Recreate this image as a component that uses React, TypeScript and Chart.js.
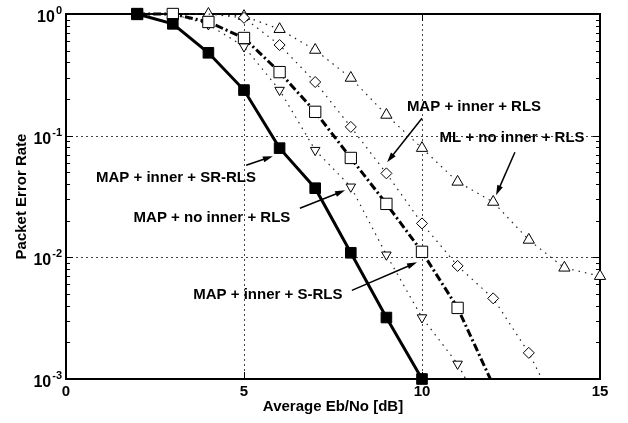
import React, { useEffect, useRef } from 'react';
import { Chart, registerables } from 'chart.js';

Chart.register(...registerables);

// ---------- data ----------
const ebNoSrRls = [2, 3, 4, 5, 6, 7, 8, 9, 10];
const perSrRls = [1.0, 0.83, 0.48, 0.237, 0.079, 0.037, 0.0109, 0.0032, 0.001];

const ebNoSRls = [2, 3, 4, 5, 6, 7, 8, 9, 10, 11, 12];
const perSRls = [1.0, 1.0, 0.86, 0.635, 0.333, 0.157, 0.0656, 0.0275, 0.0111, 0.00384, 0.00089];

const ebNoNoInner = [2, 3, 4, 5, 6, 7, 8, 9, 10, 11, 12];
const perNoInner = [1.0, 1.0, 0.82, 0.54, 0.237, 0.076, 0.038, 0.0105, 0.0032, 0.00133, 0.00038];

const ebNoInnerRls = [2, 3, 4, 5, 6, 7, 8, 9, 10, 11, 12, 13, 14];
const perInnerRls = [1.0, 1.0, 1.0, 0.93, 0.556, 0.276, 0.118, 0.049, 0.019, 0.0085, 0.0046, 0.00164, 0.00043];

const ebNoMl = [2, 3, 4, 5, 6, 7, 8, 9, 10, 11, 12, 13, 14, 15];
const perMl = [1.0, 1.0, 1.0, 0.96, 0.75, 0.506, 0.298, 0.148, 0.079, 0.0417, 0.0285, 0.0139, 0.0082, 0.007];

const xTickValues = [0, 5, 10, 15];
const yTickExponents = [0, -1, -2, -3];

const xTitle = 'Average Eb/No [dB]';
const yTitle = 'Packet Error Rate';

// annotation: label, label position, arrow start, arrow end (data units)
const annotationLabels = [
  'MAP + inner + SR-RLS',
  'MAP + no inner + RLS',
  'MAP + inner + S-RLS',
  'MAP + inner + RLS',
  'ML + no inner + RLS',
];
const annotationTextAt = [
  [3.09, 0.0447],
  [4.1, 0.0213],
  [5.67, 0.00487],
  [11.46, 0.172],
  [12.53, 0.0953],
];
const annotationArrowFrom = [
  [5.06, 0.0572],
  [6.57, 0.0253],
  [8.03, 0.00535],
  [10.0, 0.139],
  [12.61, 0.0731],
];
const annotationArrowTo = [
  [5.81, 0.0678],
  [7.84, 0.0356],
  [9.86, 0.0091],
  [9.02, 0.0605],
  [12.08, 0.0324],
];

const X_MIN = 0;
const X_MAX = 15;
const Y_MIN = 0.001;
const Y_MAX = 1;

const FONT = "'Liberation Sans', Arial, Helvetica, sans-serif";

const toXY = (xs: number[], ys: number[]) => xs.map((x, i) => ({ x, y: ys[i] }));

const radiusFn = (r: number, hidden: number[]) => (ctx: any) => {
  const raw = ctx.raw;
  if (!raw) return r;
  if (raw.y < Y_MIN) return 0;
  if (hidden.includes(ctx.dataIndex)) return 0;
  return r;
};

const clipBottom = { left: 20, right: 20, top: 20, bottom: 0 };

const decorPlugin = {
  id: 'decor',
  beforeDatasetsDraw(chart: any) {
    const { ctx, chartArea } = chart;
    const xs = chart.scales.x;
    const ys = chart.scales.y;
    const { left, right, top, bottom } = chartArea;
    ctx.save();
    // grid lines (dotted)
    ctx.strokeStyle = '#444';
    ctx.lineWidth = 1;
    ctx.setLineDash([2, 3]);
    for (const v of xTickValues) {
      if (v <= X_MIN || v >= X_MAX) continue;
      const px = Math.round(xs.getPixelForValue(v)) + 0.5;
      ctx.beginPath();
      ctx.moveTo(px, top);
      ctx.lineTo(px, bottom);
      ctx.stroke();
    }
    for (const e of yTickExponents) {
      const v = Math.pow(10, e);
      if (v <= Y_MIN || v >= Y_MAX) continue;
      const py = Math.round(ys.getPixelForValue(v)) + 0.5;
      ctx.beginPath();
      ctx.moveTo(left, py);
      ctx.lineTo(right, py);
      ctx.stroke();
    }
    ctx.setLineDash([]);
    // minor ticks on left/right
    ctx.strokeStyle = '#000';
    ctx.lineWidth = 1;
    for (let e = -3; e < 0; e++) {
      for (let m = 2; m <= 9; m++) {
        const py = Math.round(ys.getPixelForValue(m * Math.pow(10, e))) + 0.5;
        ctx.beginPath();
        ctx.moveTo(left, py);
        ctx.lineTo(left + 4, py);
        ctx.moveTo(right, py);
        ctx.lineTo(right - 4, py);
        ctx.stroke();
      }
    }
    // major ticks
    for (const e of yTickExponents) {
      const py = Math.round(ys.getPixelForValue(Math.pow(10, e))) + 0.5;
      ctx.beginPath();
      ctx.moveTo(left, py);
      ctx.lineTo(left + 7, py);
      ctx.moveTo(right, py);
      ctx.lineTo(right - 7, py);
      ctx.stroke();
    }
    for (const v of xTickValues) {
      const px = Math.round(xs.getPixelForValue(v)) + 0.5;
      ctx.beginPath();
      ctx.moveTo(px, bottom);
      ctx.lineTo(px, bottom - 7);
      ctx.moveTo(px, top);
      ctx.lineTo(px, top + 7);
      ctx.stroke();
    }
    // frame
    ctx.lineWidth = 2;
    ctx.strokeRect(left, top, right - left, bottom - top);
    ctx.restore();
  },
  afterDatasetsDraw(chart: any) {
    const { ctx, chartArea } = chart;
    const xs = chart.scales.x;
    const ys = chart.scales.y;
    ctx.save();
    ctx.fillStyle = '#000';
    // y tick labels with superscript exponents
    for (const e of yTickExponents) {
      const py = ys.getPixelForValue(Math.pow(10, e));
      const base = '10';
      const exp = String(e);
      ctx.font = `bold 16px ${FONT}`;
      const wb = ctx.measureText(base).width;
      ctx.font = `bold 11px ${FONT}`;
      const we = ctx.measureText(exp).width;
      const rightEdge = chartArea.left - 4;
      const startX = rightEdge - we - wb - 1;
      ctx.textAlign = 'left';
      ctx.textBaseline = 'alphabetic';
      ctx.font = `bold 16px ${FONT}`;
      ctx.fillText(base, startX, py + 8);
      ctx.font = `bold 11px ${FONT}`;
      ctx.fillText(exp, startX + wb + 1, py + 0);
    }
    // annotations
    ctx.font = `bold 15px ${FONT}`;
    ctx.textAlign = 'center';
    ctx.textBaseline = 'middle';
    annotationLabels.forEach((label, i) => {
      const tx = xs.getPixelForValue(annotationTextAt[i][0]);
      const ty = ys.getPixelForValue(annotationTextAt[i][1]);
      ctx.fillText(label, tx, ty);
      const x1 = xs.getPixelForValue(annotationArrowFrom[i][0]);
      const y1 = ys.getPixelForValue(annotationArrowFrom[i][1]);
      const x2 = xs.getPixelForValue(annotationArrowTo[i][0]);
      const y2 = ys.getPixelForValue(annotationArrowTo[i][1]);
      const ang = Math.atan2(y2 - y1, x2 - x1);
      const hl = 10;
      const hw = 3;
      ctx.strokeStyle = '#000';
      ctx.lineWidth = 1.5;
      ctx.beginPath();
      ctx.moveTo(x1, y1);
      ctx.lineTo(x2 - Math.cos(ang) * hl * 0.8, y2 - Math.sin(ang) * hl * 0.8);
      ctx.stroke();
      ctx.beginPath();
      ctx.moveTo(x2, y2);
      ctx.lineTo(
        x2 - Math.cos(ang) * hl + Math.sin(ang) * hw,
        y2 - Math.sin(ang) * hl - Math.cos(ang) * hw
      );
      ctx.lineTo(
        x2 - Math.cos(ang) * hl - Math.sin(ang) * hw,
        y2 - Math.sin(ang) * hl + Math.cos(ang) * hw
      );
      ctx.closePath();
      ctx.fill();
    });
    ctx.restore();
  },
};

export default function App() {
  const canvasRef = useRef<HTMLCanvasElement | null>(null);

  useEffect(() => {
    if (!canvasRef.current) return;
    const dotted = [1.5, 5];
    const chart = new Chart(canvasRef.current, {
      type: 'line',
      data: {
        datasets: [
          {
            label: 'MAP + inner + SR-RLS',
            data: toXY(ebNoSrRls, perSrRls),
            borderColor: '#000',
            borderWidth: 3,
            pointStyle: 'rect',
            pointRadius: radiusFn(7.5, []),
            pointBackgroundColor: '#000',
            pointBorderColor: '#000',
            pointBorderWidth: 1,
            clip: false,
            tension: 0,
          },
          {
            label: 'MAP + inner + S-RLS',
            data: toXY(ebNoSRls, perSRls),
            borderColor: '#000',
            borderWidth: 3,
            borderDash: [8, 3, 2, 3],
            pointStyle: 'rect',
            pointRadius: radiusFn(8, []),
            pointBackgroundColor: '#fff',
            pointBorderColor: '#000',
            pointBorderWidth: 1,
            clip: clipBottom,
            tension: 0,
          },
          {
            label: 'MAP + no inner + RLS',
            data: toXY(ebNoNoInner, perNoInner),
            borderColor: '#222',
            borderWidth: 1.2,
            borderDash: dotted,
            pointStyle: 'triangle',
            pointRotation: 180,
            pointRadius: radiusFn(5.5, [0, 1]),
            pointBackgroundColor: '#fff',
            pointBorderColor: '#000',
            pointBorderWidth: 1,
            clip: clipBottom,
            tension: 0,
          },
          {
            label: 'MAP + inner + RLS',
            data: toXY(ebNoInnerRls, perInnerRls),
            borderColor: '#222',
            borderWidth: 1.2,
            borderDash: dotted,
            pointStyle: 'rectRot',
            pointRadius: radiusFn(5.5, [0, 1, 2]),
            pointBackgroundColor: '#fff',
            pointBorderColor: '#000',
            pointBorderWidth: 1,
            clip: clipBottom,
            tension: 0,
          },
          {
            label: 'ML + no inner + RLS',
            data: toXY(ebNoMl, perMl),
            borderColor: '#222',
            borderWidth: 1.2,
            borderDash: dotted,
            pointStyle: 'triangle',
            pointRadius: radiusFn(6.5, [0, 1]),
            pointBackgroundColor: '#fff',
            pointBorderColor: '#000',
            pointBorderWidth: 1,
            clip: false,
            tension: 0,
          },
        ],
      },
      options: {
        responsive: false,
        animation: false,
        events: [],
        layout: { padding: { top: 14, right: 28, bottom: 0, left: 0 } },
        plugins: {
          legend: { display: false },
          tooltip: { enabled: false },
        },
        scales: {
          x: {
            type: 'linear',
            min: X_MIN,
            max: X_MAX,
            afterBuildTicks: (s: any) => {
              s.ticks = xTickValues.map((v) => ({ value: v }));
            },
            ticks: {
              font: { family: FONT, size: 15, weight: 'bold' },
              color: '#000',
              padding: 4,
              maxRotation: 0,
            },
            grid: { display: true, drawOnChartArea: false, drawTicks: false, color: 'rgba(0,0,0,0)' },
            border: { display: false },
            title: {
              display: true,
              text: xTitle,
              color: '#000',
              font: { family: FONT, size: 15, weight: 'bold' },
              padding: { top: 0, bottom: 7 },
            },
            afterFit: (s: any) => {
              s.height = 44;
            },
          },
          y: {
            type: 'logarithmic',
            min: Y_MIN,
            max: Y_MAX,
            ticks: { display: false },
            grid: { display: false },
            border: { display: false },
            title: {
              display: true,
              text: yTitle,
              color: '#000',
              font: { family: FONT, size: 15, weight: 'bold' },
              padding: { top: 13, bottom: 0 },
            },
            afterFit: (s: any) => {
              s.width = 66;
            },
          },
        },
      } as any,
      plugins: [decorPlugin],
    });
    return () => chart.destroy();
  }, []);

  return (
    <div style={{ position: 'absolute', left: 0, top: 0, width: 628, height: 423, background: '#fff' }}>
      <canvas ref={canvasRef} width={628} height={423} style={{ display: 'block' }} />
    </div>
  );
}
